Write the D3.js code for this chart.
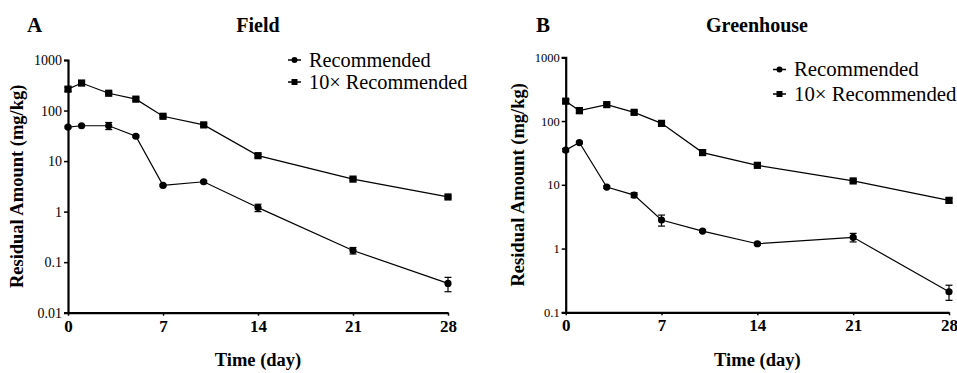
<!DOCTYPE html>
<html>
<head>
<meta charset="utf-8">
<title>Residual amount - Field and Greenhouse</title>
<script src="https://d3js.org/d3.v7.min.js"></script>
<style>
  body { margin: 0; background: #fff; }
</style>
</head>
<body>
<script>
// days sampled
var days = [0, 1, 3, 5, 7, 10, 14, 21, 28];
var xTicks = [0, 7, 14, 21, 28];

// Field
var fieldRec = [47, 50, 50, 31, 3.3, 3.9, 1.2, 0.17, 0.038];
var fieldRecErr = [2, 1.5, 8, 1.5, 0.15, 0.2, 0.2, 0.025, 0.012];
var field10x = [265, 350, 220, 168, 77, 52, 12.8, 4.4, 1.95];
var field10xErr = [25, 20, 10, 10, 4, 3, 0.8, 0.2, 0.1];
var fieldYTicks = [0.01, 0.1, 1, 10, 100, 1000];

// Greenhouse
var ghRec = [35, 46, 9.2, 6.9, 2.8, 1.88, 1.19, 1.5, 0.21];
var ghRecErr = [2, 2, 0.4, 0.6, 0.55, 0.08, 0.06, 0.23, 0.056];
var gh10x = [205, 146, 181, 137, 92, 32, 20.2, 11.5, 5.7];
var gh10xErr = [12, 15, 8, 6, 4, 1.5, 0.8, 0.5, 0.5];
var ghYTicks = [0.1, 1, 10, 100, 1000];

var legendLabels = ["Recommended", "10\u00d7 Recommended"];

var FONT = "'Liberation Serif', 'Times New Roman', 'DejaVu Serif', serif";
var W = 957, H = 373;
var svg = d3.select("body").append("svg").attr("width", W).attr("height", H)
  .attr("font-family", FONT);

function panel(opt) {
  var x = d3.scaleLinear().domain([0, 28]).range([opt.x0, opt.x1]);
  var y = d3.scaleLog().domain(opt.yDomain).range([opt.y1, opt.y0]);
  var g = svg.append("g");

  // axes
  var yAxis = d3.axisLeft(y).tickValues(opt.yTicks).tickSize(4).tickPadding(2)
    .tickFormat(function(d) { return d >= 1 ? d3.format("d")(d) : String(d); });
  var gy = g.append("g").attr("transform", "translate(" + opt.x0 + ",0)").call(yAxis);
  gy.attr("font-family", FONT);
  gy.select(".domain").attr("stroke-width", 2.2);
  gy.selectAll(".tick line").attr("stroke-width", 1.5);
  gy.selectAll("text").style("font-size", opt.yFont + "px").style("font-family", FONT);

  var xAxis = d3.axisBottom(x).tickValues(xTicks).tickSize(3).tickPadding(4).tickSizeOuter(0);
  var gx = g.append("g").attr("transform", "translate(0," + opt.y1 + ")").call(xAxis);
  gx.attr("font-family", FONT);
  gx.select(".domain").attr("stroke-width", 2.2);
  gx.selectAll(".tick line").attr("stroke-width", 1.5);
  gx.selectAll("text").style("font-size", "17px").style("font-weight", "bold").style("font-family", FONT);

  // series
  var line = d3.line().x(function(d) { return x(d[0]); }).y(function(d) { return y(d[1]); });
  opt.series.forEach(function(s) {
    var pts = days.map(function(d, i) { return [d, s.vals[i], s.err[i]]; });
    g.append("path").datum(pts).attr("d", line)
      .attr("fill", "none").attr("stroke", "#000").attr("stroke-width", 1.2);
    var eb = g.append("g");
    pts.forEach(function(p) {
      var lo = y(Math.max(p[1] - p[2], 1e-4)), hi = y(p[1] + p[2]), cx = x(p[0]);
      eb.append("line").attr("x1", cx).attr("x2", cx).attr("y1", lo).attr("y2", hi)
        .attr("stroke", "#000").attr("stroke-width", 1.2);
      [lo, hi].forEach(function(yy) {
        eb.append("line").attr("x1", cx - 3.5).attr("x2", cx + 3.5).attr("y1", yy).attr("y2", yy)
          .attr("stroke", "#000").attr("stroke-width", 1.2);
      });
    });
    pts.forEach(function(p) {
      if (s.shape === "circle") {
        g.append("circle").attr("cx", x(p[0])).attr("cy", y(p[1])).attr("r", 3.6).attr("fill", "#000");
      } else {
        g.append("rect").attr("x", x(p[0]) - 3.6).attr("y", y(p[1]) - 3.6)
          .attr("width", 7.2).attr("height", 7.2).attr("fill", "#000");
      }
    });
  });

  // titles
  function txt(sel) { return sel.style("font-family", FONT).attr("fill", "#000"); }
  txt(g.append("text")).attr("x", opt.letterX).attr("y", 32).style("font-size", "21px")
    .style("font-weight", "bold").text(opt.letter);
  txt(g.append("text")).attr("x", opt.titleX).attr("y", 32).attr("text-anchor", "middle")
    .style("font-size", "20px").style("font-weight", "bold").text(opt.title);
  txt(g.append("text")).attr("transform", "translate(" + opt.yTitleX + "," + ((opt.y0 + opt.y1) / 2) + ") rotate(-90)")
    .attr("text-anchor", "middle").style("font-size", "18.5px").style("font-weight", "bold")
    .text("Residual Amount (mg/kg)");
  txt(g.append("text")).attr("x", (opt.x0 + opt.x1) / 2).attr("y", 366).attr("text-anchor", "middle")
    .style("font-size", "18.5px").style("font-weight", "bold").text("Time (day)");

  // legend
  opt.series.forEach(function(s, i) {
    var ly = opt.legY + i * opt.legGap, lx = opt.legX;
    g.append("line").attr("x1", lx).attr("x2", lx + 13).attr("y1", ly).attr("y2", ly)
      .attr("stroke", "#000").attr("stroke-width", 1.5);
    if (s.shape === "circle") {
      g.append("circle").attr("cx", lx + 6.5).attr("cy", ly).attr("r", 3).attr("fill", "#000");
    } else {
      g.append("rect").attr("x", lx + 3.5).attr("y", ly - 3).attr("width", 6).attr("height", 6).attr("fill", "#000");
    }
    txt(g.append("text")).attr("x", lx + 21).attr("y", ly + 6.8).style("font-size", opt.legFont + "px").text(legendLabels[i]);
  });
}

panel({
  x0: 68, x1: 448, y0: 60, y1: 312.7, yDomain: [0.01, 1000], yTicks: fieldYTicks, yFont: 14,
  letter: "A", letterX: 27, title: "Field", titleX: 258, yTitleX: 23,
  legX: 288, legY: 60, legGap: 22, legFont: 20.3,
  series: [
    { vals: fieldRec, err: fieldRecErr, shape: "circle" },
    { vals: field10x, err: field10xErr, shape: "square" }
  ]
});

panel({
  x0: 565.7, x1: 949, y0: 57.3, y1: 312.3, yDomain: [0.1, 1000], yTicks: ghYTicks, yFont: 12.5,
  letter: "B", letterX: 536, title: "Greenhouse", titleX: 757, yTitleX: 524,
  legX: 773, legY: 69.5, legGap: 24.5, legFont: 20.8,
  series: [
    { vals: ghRec, err: ghRecErr, shape: "circle" },
    { vals: gh10x, err: gh10xErr, shape: "square" }
  ]
});
</script>
</body>
</html>
